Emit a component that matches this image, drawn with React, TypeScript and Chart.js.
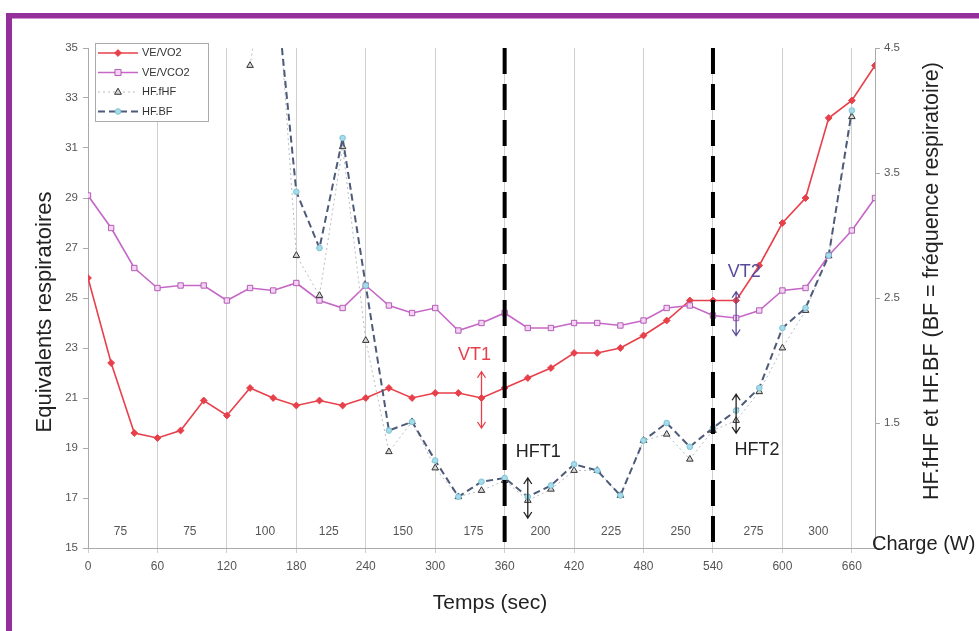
import React, { useEffect, useRef } from 'react';
import { Chart, registerables } from 'chart.js';

Chart.register(...registerables);

// ---------- data ----------
const times = [0, 20, 40, 60, 80, 100, 120, 140, 160, 180, 200, 220, 240, 260, 280, 300, 320, 340, 360, 380, 400, 420, 440, 460, 480, 500, 520, 540, 560, 580, 600, 620, 640, 660, 680];

const veVo2 = [25.8, 22.4, 19.6, 19.4, 19.7, 20.9, 20.3, 21.4, 21.0, 20.7, 20.9, 20.7, 21.0, 21.4, 21.0, 21.2, 21.2, 21.0, 21.4, 21.8, 22.2, 22.8, 22.8, 23.0, 23.5, 24.1, 24.9, 24.9, 24.9, 26.3, 28.0, 29.0, 32.2, 32.9, 34.3];

const veVco2 = [29.1, 27.8, 26.2, 25.4, 25.5, 25.5, 24.9, 25.4, 25.3, 25.6, 24.9, 24.6, 25.5, 24.7, 24.4, 24.6, 23.7, 24.0, 24.4, 23.8, 23.8, 24.0, 24.0, 23.9, 24.1, 24.6, 24.7, 24.3, 24.2, 24.5, 25.3, 25.4, 26.7, 27.7, 29.0];

const hfFhf = [null, null, null, null, null, null, null, 4.36, 5.5, 2.84, 2.52, 3.71, 2.16, 1.27, 1.51, 1.14, 0.91, 0.96, 1.04, 0.88, 0.97, 1.12, 1.12, 0.92, 1.36, 1.41, 1.21, 1.44, 1.52, 1.75, 2.1, 2.4, 2.84, 3.95, null];

const hfBf = [null, null, null, null, null, null, null, null, 5.2, 3.35, 2.9, 3.78, 2.6, 1.44, 1.51, 1.2, 0.91, 1.03, 1.06, 0.91, 1.0, 1.17, 1.12, 0.92, 1.36, 1.5, 1.31, 1.46, 1.6, 1.78, 2.26, 2.42, 2.84, 4.0, null];

const xTicks = [0, 60, 120, 180, 240, 300, 360, 420, 480, 540, 600, 660];
const leftTicks = [15, 17, 19, 21, 23, 25, 27, 29, 31, 33, 35];
const rightTicks = [0.5, 1.5, 2.5, 3.5, 4.5];

const loadLabels = ['75', '75', '100', '125', '150', '175', '200', '225', '250', '275', '300'];
const loadCenters = [28, 88, 153, 208, 272, 333, 391, 452, 512, 575, 631];
const loadLabelY = 15.65;

const thresholds = [360, 540];

const annotTexts = [
  { text: 'VT1', x: 334, y: 22.72, color: '#e8404a' },
  { text: 'VT2', x: 567, y: 26.05, color: '#5a4a9c' },
  { text: 'HFT1', x: 389, y: 18.84, color: '#222222' },
  { text: 'HFT2', x: 578, y: 18.92, color: '#222222' },
];
const annotArrows = [
  { x: 340, from: 22.05, to: 19.8, color: '#e8404a' },
  { x: 560, from: 25.25, to: 23.5, color: '#5a4a9c' },
  { x: 380, from: 17.8, to: 16.2, color: '#222222' },
  { x: 560, from: 21.15, to: 19.6, color: '#222222' },
];

// ---------- styles ----------
const FONT = "'Liberation Sans', Arial, Helvetica, sans-serif";

const seriesStyles = [
  { label: 'VE/VO2', color: '#e8404a', width: 1.6, dash: [] as number[], pointStyle: 'rectRot', radius: 3.4, fill: '#e8404a', pborder: '#e8404a', axis: 'y' },
  { label: 'VE/VCO2', color: '#c667c8', width: 1.6, dash: [] as number[], pointStyle: 'rect', radius: 3.8, fill: '#f3d2f3', pborder: '#b35db5', axis: 'y' },
  { label: 'HF.fHF', color: '#b6bcc4', width: 1, dash: [2, 3], pointStyle: 'triangle', radius: 3.8, fill: '#d8d8d8', pborder: '#333333', axis: 'y2' },
  { label: 'HF.BF', color: '#4d5a78', width: 2, dash: [7, 4], pointStyle: 'circle', radius: 2.8, fill: '#a6dbe9', pborder: '#7cc3d6', axis: 'y2' },
];
const seriesValues = [veVo2, veVco2, hfFhf, hfBf];

function toPoints(vals: (number | null)[]) {
  const pts: { x: number; y: number }[] = [];
  vals.forEach((v, i) => {
    if (v !== null && v !== undefined) pts.push({ x: times[i], y: v });
  });
  return pts;
}

function drawMarker(ctx: CanvasRenderingContext2D, style: string, x: number, y: number, r: number, fill: string, border: string) {
  ctx.save();
  ctx.beginPath();
  if (style === 'rectRot') {
    ctx.moveTo(x, y - r); ctx.lineTo(x + r, y); ctx.lineTo(x, y + r); ctx.lineTo(x - r, y); ctx.closePath();
  } else if (style === 'rect') {
    ctx.rect(x - r * 0.8, y - r * 0.8, r * 1.6, r * 1.6);
  } else if (style === 'triangle') {
    ctx.moveTo(x, y - r); ctx.lineTo(x + r * 0.9, y + r * 0.6); ctx.lineTo(x - r * 0.9, y + r * 0.6); ctx.closePath();
  } else {
    ctx.arc(x, y, r, 0, Math.PI * 2);
  }
  ctx.fillStyle = fill; ctx.fill();
  ctx.lineWidth = 1; ctx.strokeStyle = border; ctx.setLineDash([]); ctx.stroke();
  ctx.restore();
}

const decorPlugin = {
  id: 'decor',
  beforeDraw(chart: any) {
    const ctx = chart.ctx as CanvasRenderingContext2D;
    ctx.save();
    ctx.fillStyle = '#ffffff';
    ctx.fillRect(0, 0, chart.width, chart.height);
    ctx.fillStyle = '#952f9c';
    ctx.fillRect(6, 13, chart.width - 6, 5.5);
    ctx.fillRect(6, 13, 6, chart.height - 13);
    ctx.restore();
  },
  afterDraw(chart: any) {
    const ctx = chart.ctx as CanvasRenderingContext2D;
    const xs = chart.scales.x;
    const ys = chart.scales.y;
    ctx.save();

    // load labels
    ctx.font = `12px ${FONT}`;
    ctx.fillStyle = '#555555';
    ctx.textAlign = 'center';
    ctx.textBaseline = 'middle';
    loadLabels.forEach((t, i) => {
      ctx.fillText(t, xs.getPixelForValue(loadCenters[i]), ys.getPixelForValue(loadLabelY));
    });

    // annotation arrows
    annotArrows.forEach((a) => {
      const x = xs.getPixelForValue(a.x);
      const y1 = ys.getPixelForValue(a.from);
      const y2 = ys.getPixelForValue(a.to);
      ctx.strokeStyle = a.color;
      ctx.lineWidth = 1.3;
      ctx.setLineDash([]);
      ctx.beginPath();
      ctx.moveTo(x, y1); ctx.lineTo(x, y2);
      ctx.moveTo(x - 4, y1 + 6); ctx.lineTo(x, y1); ctx.lineTo(x + 4, y1 + 6);
      ctx.moveTo(x - 4, y2 - 6); ctx.lineTo(x, y2); ctx.lineTo(x + 4, y2 - 6);
      ctx.stroke();
    });

    // annotation texts
    annotTexts.forEach((a) => {
      ctx.font = `${a.text.length > 3 ? 18 : 18}px ${FONT}`;
      ctx.fillStyle = a.color;
      ctx.fillText(a.text, xs.getPixelForValue(a.x), ys.getPixelForValue(a.y));
    });

    // legend
    const lx = 95, ly = 43, lw = 113, lh = 78;
    ctx.fillStyle = '#ffffff';
    ctx.fillRect(lx, ly, lw, lh);
    ctx.strokeStyle = '#aaaaaa';
    ctx.lineWidth = 1;
    ctx.strokeRect(lx + 0.5, ly + 0.5, lw, lh);
    seriesStyles.forEach((s, i) => {
      const yy = 53 + i * 19.5;
      ctx.strokeStyle = s.color;
      ctx.lineWidth = s.width;
      ctx.setLineDash(s.dash);
      ctx.beginPath();
      ctx.moveTo(98, yy); ctx.lineTo(138, yy);
      ctx.stroke();
      ctx.setLineDash([]);
      drawMarker(ctx, s.pointStyle, 118, yy, s.radius, s.fill, s.pborder);
      ctx.fillStyle = '#333333';
      ctx.font = `11px ${FONT}`;
      ctx.textAlign = 'left';
      ctx.textBaseline = 'middle';
      ctx.fillText(s.label, 142, yy);
    });

    // titles
    ctx.fillStyle = '#222222';
    ctx.font = `21px ${FONT}`;
    ctx.textAlign = 'center';
    ctx.textBaseline = 'middle';
    ctx.fillText('Temps (sec)', 490, 603);

    ctx.save();
    ctx.translate(45, 312);
    ctx.rotate(-Math.PI / 2);
    ctx.font = `22px ${FONT}`;
    ctx.fillText('Equivalents respiratoires', 0, 0);
    ctx.restore();

    ctx.save();
    ctx.translate(932, 281);
    ctx.rotate(-Math.PI / 2);
    ctx.font = `21.5px ${FONT}`;
    ctx.fillText('HF.fHF et HF.BF (BF = fréquence respiratoire)', 0, 0);
    ctx.restore();

    ctx.font = `20px ${FONT}`;
    ctx.textAlign = 'left';
    ctx.fillText('Charge (W)', 872, 544);

    ctx.restore();
  },
};

export default function App() {
  const ref = useRef<HTMLCanvasElement | null>(null);

  useEffect(() => {
    if (!ref.current) return;
    const datasets: any[] = seriesStyles.map((s, i) => ({
      label: s.label,
      data: toPoints(seriesValues[i]),
      borderColor: s.color,
      borderWidth: s.width,
      borderDash: s.dash,
      pointStyle: s.pointStyle,
      pointRadius: s.radius,
      pointBackgroundColor: s.fill,
      pointBorderColor: s.pborder,
      pointBorderWidth: 1,
      yAxisID: s.axis,
      tension: 0,
      fill: false,
      order: 4 - i,
    }));
    thresholds.forEach((t) => {
      datasets.push({
        label: 'seuil ' + t,
        data: [{ x: t, y: leftTicks[leftTicks.length - 1] }, { x: t, y: leftTicks[0] }],
        borderColor: '#000000',
        borderWidth: 4,
        borderDash: [26, 10],
        pointRadius: 0,
        yAxisID: 'y',
        fill: false,
        order: 0,
      });
    });

    const chart = new Chart(ref.current, {
      type: 'line',
      data: { datasets },
      options: {
        animation: false,
        responsive: false,
        maintainAspectRatio: false,
        layout: { padding: { top: 48, left: 0, right: 0, bottom: 0 } },
        plugins: { legend: { display: false }, tooltip: { enabled: false } },
        scales: {
          x: {
            type: 'linear',
            min: 0,
            max: 680,
            afterFit: (s: any) => { s.height = 83; },
            afterBuildTicks: (s: any) => { s.ticks = xTicks.map((v) => ({ value: v })); },
            grid: { color: '#cfcfcf', lineWidth: 1, drawTicks: true, tickLength: 5 },
            border: { color: '#aaaaaa' },
            ticks: { font: { family: FONT, size: 12 }, color: '#555555', padding: 6, maxRotation: 0 },
          },
          y: {
            type: 'linear',
            position: 'left',
            min: 15,
            max: 35,
            afterFit: (s: any) => { s.width = 88; },
            afterBuildTicks: (s: any) => { s.ticks = leftTicks.map((v) => ({ value: v })); },
            grid: { drawOnChartArea: false, drawTicks: true, tickLength: 5, color: '#aaaaaa' },
            border: { color: '#aaaaaa' },
            ticks: { font: { family: FONT, size: 11.5 }, color: '#555555', padding: 5 },
          },
          y2: {
            type: 'linear',
            position: 'right',
            min: 0.5,
            max: 4.5,
            afterFit: (s: any) => { s.width = 104; },
            afterBuildTicks: (s: any) => { s.ticks = rightTicks.map((v) => ({ value: v })); },
            grid: { drawOnChartArea: false, drawTicks: true, tickLength: 5, color: '#aaaaaa' },
            border: { color: '#aaaaaa' },
            ticks: {
              font: { family: FONT, size: 11.5 },
              color: '#555555',
              padding: 4,
              callback: (v: any) => (Number(v) === 0.5 ? '' : String(v)),
            },
          },
        },
      },
      plugins: [decorPlugin],
    } as any);
    return () => chart.destroy();
  }, []);

  return (
    <div style={{ position: 'fixed', left: 0, top: 0, width: 979, height: 631, background: '#fff' }}>
      <canvas ref={ref} width={979} height={631} style={{ display: 'block', width: 979, height: 631 }} />
    </div>
  );
}
